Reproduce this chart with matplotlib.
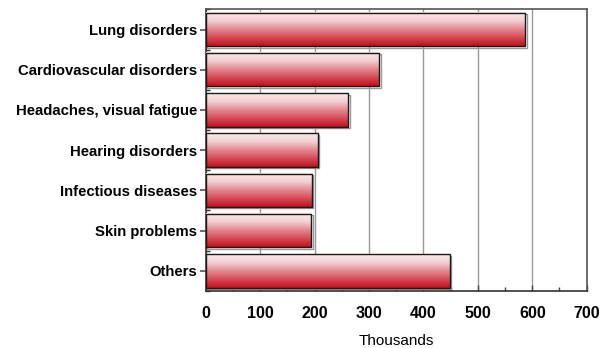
import numpy as np
import matplotlib.pyplot as plt
from matplotlib.patches import Rectangle
from matplotlib.colors import LinearSegmentedColormap
from matplotlib.ticker import MultipleLocator, FixedLocator
from matplotlib.transforms import ScaledTranslation

plt.rcParams['font.family'] = ['Liberation Sans', 'DejaVu Sans']

# Work-related illness, thousands of cases
categories = ["Lung disorders", "Cardiovascular disorders", "Headaches, visual fatigue",
              "Hearing disorders", "Infectious diseases", "Skin problems", "Others"]
values = [587, 319, 262, 206, 195, 194, 449]
xticks = [0, 100, 200, 300, 400, 500, 600, 700]

fig = plt.figure(figsize=(6.03, 3.48), dpi=100)
ax = fig.add_axes([0.341, 0.164, 0.632, 0.809])

# vertical gradient from pale pink (top) to deep red (bottom)
cmap = LinearSegmentedColormap.from_list(
    "redfade", ["#fbeaea", "#f3d0d3", "#e48890", "#d44a55", "#c40f1a"])
grad = np.linspace(0, 1, 256).reshape(-1, 1)

n = len(categories)
h = 0.83
shift = ScaledTranslation(1.0 / 72, -1.0 / 72, fig.dpi_scale_trans)
for i, (cat, v) in enumerate(zip(categories, values)):
    y = i
    shadow = Rectangle((0, y - h / 2), v, h, facecolor="none", edgecolor="#999999",
                       lw=1.0, zorder=2)
    shadow.set_transform(ax.transData + shift)
    ax.add_patch(shadow)
    ax.imshow(grad, cmap=cmap, aspect="auto", origin="upper",
              extent=(0, v, y + h / 2, y - h / 2), zorder=3, interpolation="bilinear")
    ax.add_patch(Rectangle((0, y - h / 2), v, h, facecolor="none",
                           edgecolor="#1a1a1a", lw=1.0, zorder=4))

ax.set_xlim(0, 700)
ax.set_ylim(n - 0.5, -0.5)

ax.set_yticks(range(n))
ax.set_yticklabels(categories, fontsize=10.7, fontweight="bold")
ax.yaxis.set_minor_locator(FixedLocator(np.arange(-0.5, n, 1.0)))
ax.tick_params(axis="y", which="major", direction="out", length=4, width=1.2,
               color="#555555", pad=2)
ax.tick_params(axis="y", which="minor", direction="in", length=3, width=1,
               color="#333333")

ax.set_xticks(xticks)
ax.set_xticklabels([str(t) for t in xticks], fontsize=11.5, fontweight="bold")
ax.xaxis.set_minor_locator(MultipleLocator(50))
ax.tick_params(axis="x", which="major", direction="in", length=4, width=1,
               color="#444444", pad=11)
ax.tick_params(axis="x", which="minor", direction="in", length=3, width=1,
               color="#444444")
ax.set_xlabel("Thousands", fontsize=11, labelpad=9.5)

ax.grid(axis="x", which="major", color="#9a9a9a", lw=1.0, zorder=1)
ax.set_axisbelow(True)

for side in ["left", "bottom"]:
    ax.spines[side].set_color("#333333")
    ax.spines[side].set_linewidth(1.2)
for side in ["top", "right"]:
    ax.spines[side].set_color("#555555")
    ax.spines[side].set_linewidth(1.2)

fig.savefig("out.png", dpi=100)
